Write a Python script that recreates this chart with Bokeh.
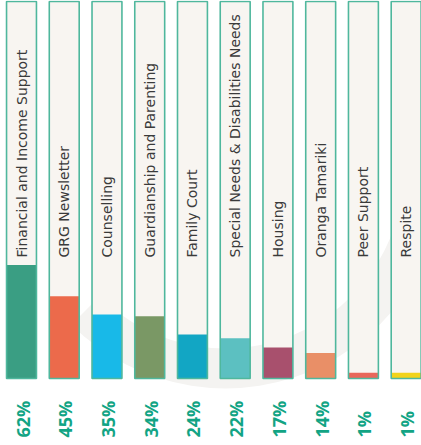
import numpy as np
from bokeh.plotting import figure
from bokeh.models import Range1d, ColumnDataSource
from bokeh.core.properties import value
from bokeh.embed import file_html
from bokeh.resources import INLINE

categories = ["Financial and Income Support", "GRG Newsletter", "Counselling",
              "Guardianship and Parenting", "Family Court",
              "Special Needs & Disabilities Needs", "Housing", "Oranga Tamariki",
              "Peer Support", "Respite"]
percents = [62, 45, 35, 34, 24, 22, 17, 14, 1, 1]
bar_colors = ["#3a9e83", "#ec6a4b", "#18b9e8", "#7a9865", "#12a6c4",
              "#5cc0c1", "#a8506d", "#e98f67", "#e8675a", "#f2d31b"]

W, H = 421, 445
PITCH, FIRST = 42.74, 21.0       # px per category, px of first centre
YS, BASE = 1.83, 378             # px per percent, px of bar baseline

x_range = Range1d(-FIRST / PITCH, (W - FIRST) / PITCH)
y_range = Range1d(-(H - BASE) / YS, BASE / YS)

p = figure(width=W, height=H, x_range=x_range, y_range=y_range,
           output_backend="svg", toolbar_location=None, min_border=0)
p.axis.visible = False
p.grid.visible = False
p.outline_line_color = None
p.background_fill_color = "white"
p.border_fill_color = "white"

# faint watermark swoosh in the background
p.annular_wedge(x=[(225 - FIRST) / PITCH], y=[(BASE - 170) / YS],
                inner_radius=178, outer_radius=218,
                inner_radius_units="screen", outer_radius_units="screen",
                start_angle=np.pi * 0.05, end_angle=np.pi * 1.25,
                direction="clock", color="#f4f3f1", line_color=None)

n = len(categories)
xs = np.arange(n)
half = 0.35
box_top = (BASE - 1) / YS
shown = np.maximum(np.array(percents, dtype=float), 3.2)

src = ColumnDataSource(dict(
    x=xs, left=xs - half, right=xs + half,
    top=shown, color=bar_colors, cat=categories,
    pct=[f"{v}%" for v in percents],
))

p.quad(left="left", right="right", bottom=0, top=box_top, source=src,
       fill_color="#f8f5f1", line_color=None)
p.quad(left="left", right="right", bottom=0, top="top", source=src,
       fill_color="color", line_color=None)
p.quad(left="left", right="right", bottom=0, top=box_top, source=src,
       fill_color=None, line_color="#4fb79d", line_width=1.6)

p.text(x="x", y=(BASE - 257) / YS, text="cat", source=src,
       angle=np.pi / 2, text_align="left", text_baseline="middle",
       text_color="#3a3a3a", text_font=value("DejaVu Sans"),
       text_font_size="14px")

p.text(x="x", y=(BASE - 437) / YS, text="pct", source=src,
       angle=np.pi / 2, x_offset=1,
       text_align="left", text_baseline="middle", text_color="#12a484",
       text_font=value("Open Sans"), text_font_style="bold",
       text_font_size="18px")

open("out.html", "w").write(file_html(p, INLINE))
